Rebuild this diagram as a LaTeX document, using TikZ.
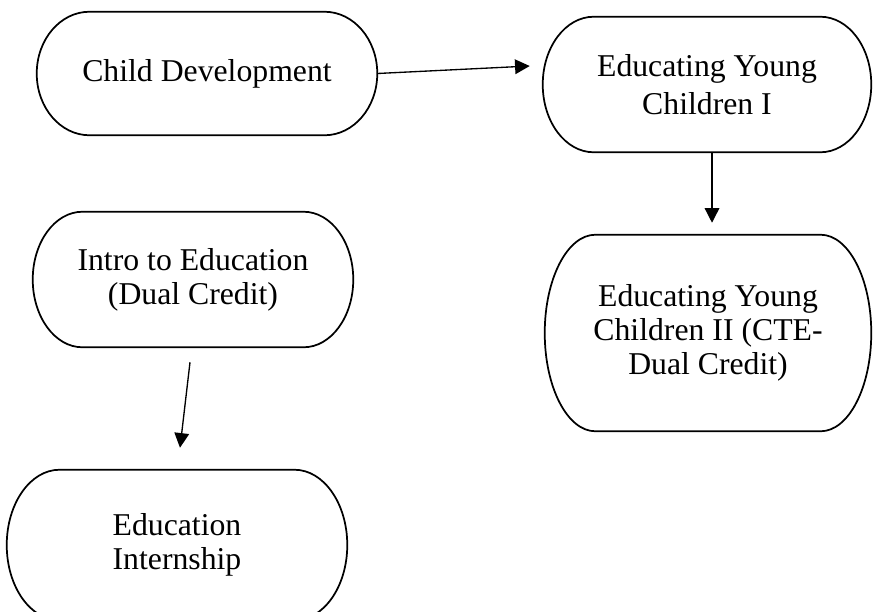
\documentclass[tikz,border=0pt]{standalone}
\usepackage{fontspec}
\setmainfont{Liberation Serif}
\usetikzlibrary{arrows.meta,calc}
\tikzset{
  course/.style={
      inner sep=0pt,
      align=center,
      font=\fontsize{23.8}{25.5}\selectfont
    },
  course line/.style={black, line width=1.3pt},
  path arrow/.style={
      line width=1pt,
        -{Triangle[length=11pt,width=11pt]}
    }
}
% terminator outline round a named course node
\newcommand{\courseoutline}[1]{%
  \draw[course line] let \p1=(#1.north west), \p2=(#1.south east),
    \n1={0.155*(\x2-\x1)}, \n2={(\y1-\y2)/2} in
    (\x1+\n1,\y1) -- (\x2-\n1,\y1)
    arc[start angle=90, end angle=-90, x radius=\n1, y radius=\n2]
    -- (\x1+\n1,\y2)
    arc[start angle=270, end angle=90, x radius=\n1, y radius=\n2]
    -- cycle;}

\begin{document}
\begin{tikzpicture}[x=0.75pt,y=-0.75pt]
  \clip (0,0) rectangle (873,611);

  % ------------------------------------------------------------------
  % Child development pathway.
  % ------------------------------------------------------------------
  \node[course, minimum width=255pt, minimum height=92.25pt] (cd)
  at (207,73.5) {Child Development};

  \node[course, minimum width=246pt, minimum height=101.25pt] (eyc1)
  at (707,84.5) {Educating Young\\[2.5pt]Children I};

  \node[course, minimum width=244.5pt, minimum height=147pt] (eyc2)
  at (708,333) {Educating Young\\Children II (CTE-\\Dual Credit)};

  \courseoutline{cd}
  \courseoutline{eyc1}
  \courseoutline{eyc2}

  \draw[path arrow] (cd.east) -- ([shift={(-13,-18.5)}]eyc1.west);
  \draw[path arrow] ([shift={(5,0)}]eyc1.south) --
  ([shift={(4,-12)}]eyc2.north);

  % ------------------------------------------------------------------
  % Education pathway.
  % ------------------------------------------------------------------
  \node[course, minimum width=240pt, minimum height=101.25pt] (intro)
  at (193,279.5) {Intro to Education\\(Dual Credit)};

  \node[course, minimum width=255pt, minimum height=112.5pt] (intern)
  at (177,545) {Education\\Internship};

  \courseoutline{intro}
  \courseoutline{intern}

  \draw[path arrow] ([shift={(-3,15)}]intro.south) --
  ([shift={(3,-22)}]intern.north);

\end{tikzpicture}
\end{document}
